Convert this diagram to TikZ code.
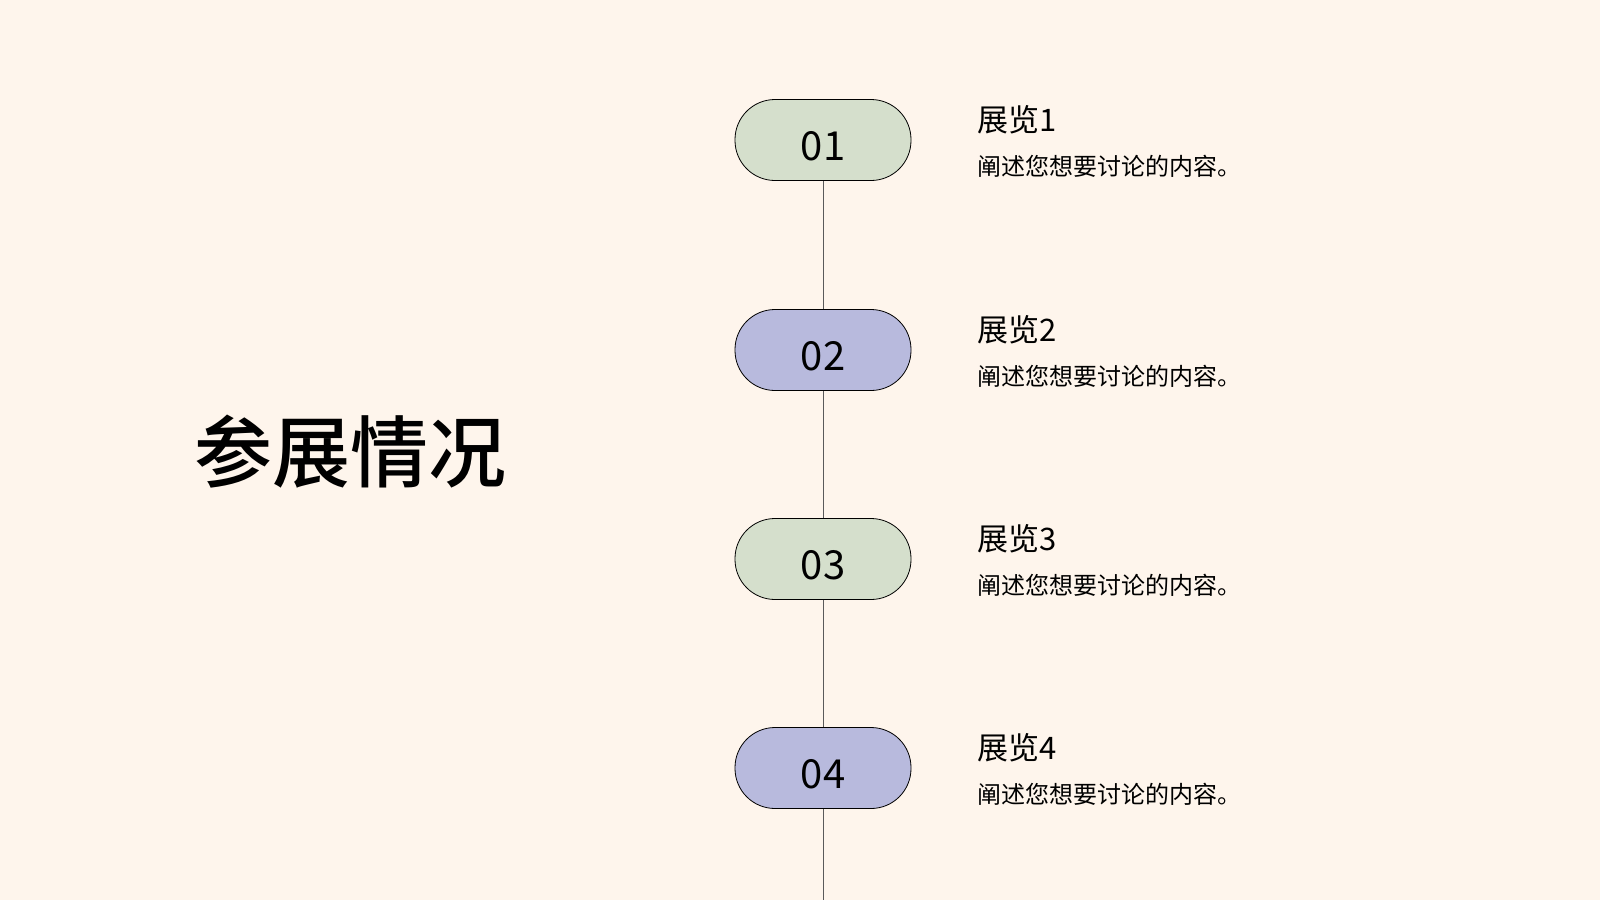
\documentclass[tikz,border=0pt]{standalone}
\usepackage{fontspec}
\setmainfont{Noto Sans CJK SC}
\newfontfamily\titlefont{Noto Sans CJK SC Medium}
\usetikzlibrary{positioning}
\definecolor{bgcream}{HTML}{FEF5EC}
\definecolor{pillgreen}{HTML}{D5DFCC}
\definecolor{pillpurple}{HTML}{B8BADD}
\definecolor{linegray}{HTML}{5A5A5A}
\tikzset{
  pill/.style={draw, line width=0.8pt, rounded corners=40pt, minimum width=176pt,
    minimum height=81pt, text height=41pt, text depth=0pt, inner sep=0pt,
    font=\fontsize{40}{48}\selectfont},
  heading/.style={anchor=west, inner sep=0pt, font=\fontsize{31}{37}\selectfont},
  detail/.style={anchor=west, inner sep=0pt, font=\fontsize{24}{29}\selectfont}
}

\begin{document}
\begin{tikzpicture}[x=1pt, y=-1pt]
            \fill[bgcream] (0,0) rectangle (1600,900);
            \useasboundingbox (0,0) rectangle (1600,900);

            %Nodes
            \node at (350,452) (title) {\titlefont\fontsize{78}{90}\selectfont 参展情况};

            \node[pill, fill=pillgreen] at (823,140) (p1) {01};
            \node[pill, fill=pillpurple] at (823,350) (p2) {02};
            \node[pill, fill=pillgreen] at (823,559) (p3) {03};
            \node[pill, fill=pillpurple] at (823,768) (p4) {04};
            \coordinate (end) at (823,900);

            \node[heading] at (977,120) (h1) {展览1};
            \node[detail] at (977,166) (d1) {阐述您想要讨论的内容。};
            \node[heading] at (977,330) (h2) {展览2};
            \node[detail] at (977,376) (d2) {阐述您想要讨论的内容。};
            \node[heading] at (977,539) (h3) {展览3};
            \node[detail] at (977,585) (d3) {阐述您想要讨论的内容。};
            \node[heading] at (977,748) (h4) {展览4};
            \node[detail] at (977,794) (d4) {阐述您想要讨论的内容。};

            %Lines
            \draw[linegray, line width=0.8pt] (p1) -- (p2);
            \draw[linegray, line width=0.8pt] (p2) -- (p3);
            \draw[linegray, line width=0.8pt] (p3) -- (p4);
            \draw[linegray, line width=0.8pt] (p4) -- (end);
        \end{tikzpicture}
\end{document}
